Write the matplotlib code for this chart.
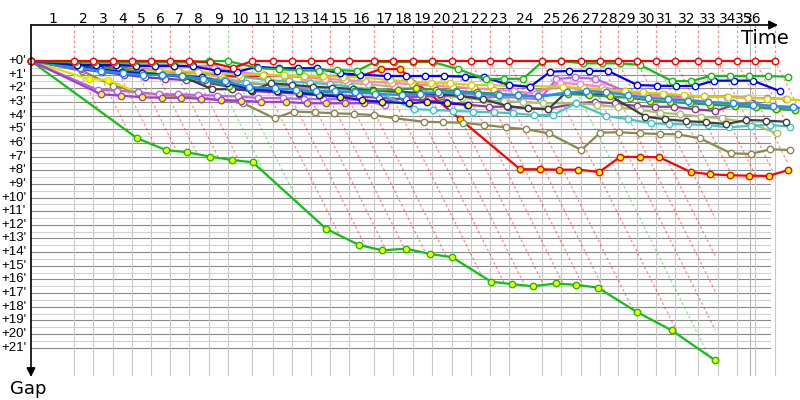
import matplotlib
matplotlib.use("Agg")
import matplotlib.pyplot as plt
import numpy as np

# leader's elapsed time (minutes) at the start and at each of the 36 checkpoints
checkpoint_time = [0, 3.86, 5.56, 7.33, 9.03, 10.74, 12.47, 14.17, 15.94, 17.64,
                   19.85, 21.68, 23.38, 25.09, 26.79, 28.49, 30.79, 32.49, 34.23, 35.94,
                   37.73, 39.43, 41.14, 42.84, 45.80, 47.56, 49.30, 51.03, 52.62, 54.32,
                   56.03, 57.73, 59.85, 61.59, 63.29, 64.96, 66.73]
time_limit = 64.48
checkpoint_labels = [str(i) for i in range(1, 37)]
gap_labels = ["+%d'" % i for i in range(0, 22)]

# gap to the leader (minutes) at start, cp1, cp2, ...
red_lead = [0, 0, 0, 0, 0, 0, 0, 0, 0.1, 0.5,
            0, 0, 0, 0, 0, 0, 0, 0, 0, 0,
            0, 0, 0, 0, 0, 0, 0, 0, 0, 0,
            0, 0, 0, 0, 0, 0, 0]
green = [0, 0.1, 0.1, 0.1, 0.1, 0.1, 0.1, 0.1, 0, 0,
         0.53, 0.6, 0.7, 0.7, 0.66, 0.73, 0.07, 0.07, 0.07, 0.07,
         0.6, 1.34, 1.3, 1.3, 0.05, 0, 0.17, 0.17, 0.17, 0.29,
         1.47, 1.47, 1.1, 1.1, 1.1, 1.1, 1.15]
blue = [0, 0.3, 0.3, 0.3, 0.35, 0.35, 0.35, 0.4, 0.7, 0.8,
        0.42, 0.53, 0.53, 0.53, 0.9, 1.0, 1.1, 1.1, 1.1, 1.1,
        1.15, 1.2, 1.75, 1.9, 0.78, 0.73, 0.73, 0.73, 1.76, 1.81,
        1.83, 1.83, 1.44, 1.44, 1.44, 2.2]
blue_y = [0, 0.46, 0.6, 0.8, 0.9, 1.0, 1.1, 1.2, 1.6, 2.1,
          2.2, 2.34, 2.49, 2.62, 2.86, 3.0, 3.1, 3.0, 3.1, 3.22]
dodger = [0, 0.5, 0.7, 0.9, 1.03, 1.03, 1.1, 1.3, 1.5, 1.9,
          2.0, 2.1, 2.2, 2.2, 2.3, 2.4, 2.5, 2.4, 2.3, 2.3,
          2.4, 2.5, 2.5, 2.6, 2.3, 2.2, 2.3, 2.5, 2.7, 2.8,
          2.9, 3.0, 3.1, 3.2, 3.3, 3.4, 3.5]
cyan = [0, 0.15, 0.17, 0.3, 0.4, 0.4, 0.4, 0.4, 0.3, 1.15,
        1.4, 1.5, 1.6, 1.7, 1.88, 2.1, 3.52, 3.59, 3.66, 3.71,
        3.76, 3.83, 3.96, 3.96, 3.1, 4.03, 4.27, 4.56, 4.62, 4.64,
        4.69, 4.86, 4.74, 4.69, 4.81]
black = [0, 0.3, 0.5, 0.7, 0.85, 1.0, 1.15, 2.07, 2.07, 2.18,
         1.63, 1.76, 1.88, 1.95, 2.05, 2.15, 2.25, 2.35, 2.45, 2.56,
         2.8, 3.3, 3.47, 3.54, 2.25, 2.44, 2.45, 4.08, 4.27, 4.4,
         4.49, 4.62, 4.32, 4.37, 4.45]
olive = [0, 0.73, 1.8, 2.3, 2.5, 2.6, 2.7, 2.86, 3.1, 4.2,
         3.7, 3.76, 3.83, 3.88, 3.96, 4.2, 4.45, 4.49, 4.52, 4.69,
         4.86, 5.0, 5.3, 6.52, 5.25, 5.22, 5.3, 5.35, 5.37, 5.66,
         6.76, 6.81, 6.47, 6.52]
red_drop = [0, 0.3, 0.4, 0.5, 0.6, 0.7, 0.8, 0.9, 1.0, 1.2,
            1.05, 1.1, 1.1, 1.1, 1.1, 1.1, 0.59, 0.59, 4.27, 7.93,
            7.93, 7.96, 7.96, 8.13, 7.03, 7.03, 7.05, 8.13, 8.3, 8.37,
            8.4, 8.42, 8.0]
green_drop = [0, 5.66, 6.52, 6.69, 7.0, 7.25, 7.42, 12.29, 13.48, 13.87,
              13.75, 14.14, 14.37, 16.16, 16.35, 16.5, 16.3, 16.4, 16.6, 18.38,
              19.73, 21.93]
yellow = [0, 1.32, 1.39, 2.37, 2.62, 2.69, 2.76]
violet_a = [0, 2.12, 2.17, 2.29, 2.44, 2.44, 2.49, 2.54, 2.6, 2.7,
            2.73, 2.78, 2.8, 2.8, 2.86, 3.22, 2.62, 2.5, 2.5, 2.6,
            2.7, 2.6, 2.7, 2.8, 1.32, 1.2, 1.3, 2.2, 2.4, 2.5,
            2.6, 2.6, 2.61, 2.69, 2.73, 2.78]
violet_b = [0, 2.44, 2.54, 2.66, 2.69, 2.69, 2.76, 2.86, 2.9, 3.0,
            3.0, 3.1, 3.1, 3.1, 3.1, 2.98, 2.7, 2.6, 2.55, 2.6, 2.7]
purple = [0, 0.6, 0.8, 1.0, 1.2, 1.3, 1.4, 1.6, 1.9, 2.2,
          2.3, 2.4, 2.5, 2.5, 2.6, 2.7, 2.8, 2.9, 3.0, 3.2,
          3.35, 3.35, 3.47, 3.5, 3.1, 3.0, 3.1, 3.3, 3.35, 3.35,
          3.54, 3.66, 3.22, 3.1, 3.35, 3.35]
yellowgreen = [0, 0.5, 0.7, 0.8, 0.85, 0.9, 0.95, 0.9, 1.2, 1.6,
               1.7, 1.6, 1.5, 1.5, 1.6, 1.7, 1.9, 2.1, 2.4, 2.7,
               2.86, 2.95, 3.0, 3.1, 3.1, 3.2, 3.39, 3.59, 3.79, 3.9,
               4.08, 4.2, 4.52, 5.3]
gold = [0, 0.5, 0.55, 0.6, 0.65, 0.7, 0.75, 0.8, 0.9, 1.0,
        1.0, 1.05, 1.1, 1.1, 1.15, 1.2, 1.4, 1.5, 1.63, 1.63,
        1.76, 1.76, 1.83, 1.83, 1.9, 2.0, 2.1, 2.2, 2.3, 2.4,
        2.5, 2.6, 2.65, 2.7, 2.75, 2.8, 2.9]
gray = [0, 0.4, 0.6, 0.8, 0.9, 1.0, 1.1, 1.2, 1.4, 1.6,
        1.8, 1.9, 2.0, 2.0, 2.1, 2.2, 2.3, 2.3, 2.4, 2.4,
        2.5, 2.5, 2.6, 2.2, 1.9, 2.1, 2.2, 2.3, 2.4, 2.6,
        2.8, 3.0, 3.2, 3.3, 3.5, 3.6]
green_y = [0, 0.2, 0.4, 0.6, 0.8, 1.0, 1.2, 1.4, 1.8, 2.0,
           2.2, 2.3, 2.3, 2.3, 2.2, 2.2, 2.1, 2.0, 2.1, 2.2,
           2.3, 2.4, 2.5, 2.6, 2.4, 2.5, 2.6, 2.7, 2.9, 3.0,
           3.1, 3.2, 3.3, 3.4, 3.5, 3.6]
pink = [0, 0.1, 0.15, 0.2, 0.25, 0.3, 0.3, 0.35, 0.5, 0.8,
        1.0, 1.1, 1.2, 1.3, 1.4, 1.5, 1.6, 1.7, 1.8, 1.9,
        2.0, 2.1, 2.2, 2.4, 1.6, 1.7, 1.9, 2.3, 2.5, 2.7,
        2.9, 3.0, 3.1, 3.2, 3.3, 3.4]

# drawn bottom to top: (gaps, line colour, marker fill)
series = [
    (green_drop, "#10c010", "#ffff00"),
    (red_drop, "#ff0000", "#ffff00"),
    (olive, "#8c8850", "white"),
    (yellow, "#e0e000", "#ffff00"),
    (violet_a, "#c060f0", "white"),
    (violet_b, "#a040d0", "#ffff00"),
    (purple, "#9038a0", "white"),
    (yellowgreen, "#a8c468", "white"),
    (gray, "#a0a0a0", "white"),
    (cyan, "#40c8c8", "white"),
    (black, "#404040", "white"),
    (pink, "#ff80c0", "white"),
    (gold, "#d8d000", "white"),
    (green_y, "#30a030", "#ffff00"),
    (blue_y, "#1010d0", "#ffff00"),
    (dodger, "#1890ff", "white"),
    (blue, "#0000ff", "white"),
    (green, "#10c010", "white"),
    (red_lead, "#ff0000", "white"),
]

PX_X, PX_Y = 11.15, 13.65          # pixels per minute
fig = plt.figure(figsize=(8, 4), dpi=100)
ax = fig.add_axes([0, 0, 1, 1])
ax.set_xlim(-31 / PX_X, 769 / PX_X)
ax.set_ylim(339 / PX_Y, -61 / PX_Y)
ax.axis("off")

T = np.array(checkpoint_time)
axis_g = -36 / PX_Y
grid_end = 739 / PX_X
bottom_g = 23.0

# horizontal grid
for i in range(21):
    ax.plot([0, grid_end], [i + 0.5] * 2, color="#d0d0d0", lw=0.8, zorder=0)
    ax.plot([0, grid_end], [i + 1] * 2, color="#8a8a8a", lw=0.8, zorder=0)

# who led at each checkpoint
leader_col = []
for k in range(len(T)):
    best = min((s for s in series if len(s[0]) > k), key=lambda s: s[0][k])
    leader_col.append(best[1])

# lowest position reached at any time -> where the diagonals stop
t_fine = np.linspace(0, 72, 5000)
curves = []
for gaps, col, face in series:
    g = np.array(gaps, float)
    x = T[:len(g)] + g
    curves.append(np.interp(t_fine, x, g, left=np.nan, right=np.nan))
lowest = np.fmax.reduce(np.vstack(curves), axis=0)

slope = 2 * PX_X / PX_Y
for k in range(1, len(T)):
    t0 = T[k]
    ax.plot([t0, t0], [0, bottom_g], color="#c8c8c8", lw=0.8, zorder=0.5)
    ax.plot([t0, t0], [axis_g, 0], color=leader_col[k], lw=0.9, alpha=0.45,
            dashes=(2, 2), zorder=0.6)
    hit = np.where((t_fine > t0) & (slope * (t_fine - t0) >= lowest))[0]
    t1 = t_fine[hit[0]] if len(hit) else 72
    ax.plot([t0, t1], [0, slope * (t1 - t0)], color=leader_col[k], lw=0.9,
            alpha=0.45, dashes=(2, 2), zorder=0.6)
ax.plot([time_limit, time_limit], [axis_g, bottom_g], color="#b4b4b4", lw=0.8, zorder=0.5)

# series
for z, (gaps, col, face) in enumerate(series):
    g = np.array(gaps, float)
    x = T[:len(g)] + g
    ax.plot(x, g, "-", color=col, lw=1.6, zorder=2 + z * 0.1, solid_capstyle="round")
    ax.plot(x, g, "o", ms=4.6, mfc=face, mec=col, mew=1.0, zorder=2.05 + z * 0.1)

# axes with arrows
ax.annotate("", xy=(747 / PX_X, axis_g), xytext=(0, axis_g),
            arrowprops=dict(arrowstyle="-|>", color="black", lw=1.2, mutation_scale=13,
                            shrinkA=0, shrinkB=0), zorder=5)
ax.annotate("", xy=(0, 316 / PX_Y), xytext=(0, axis_g),
            arrowprops=dict(arrowstyle="-|>", color="black", lw=1.2, mutation_scale=13,
                            shrinkA=0, shrinkB=0), zorder=5)

for k, lab in enumerate(checkpoint_labels, start=1):
    xm = (T[k - 1] + min(T[k], time_limit)) / 2
    ax.text(xm, -42 / PX_Y, lab, ha="center", va="center", fontsize=10,
            family="DejaVu Sans")
for i, lab in enumerate(gap_labels):
    ax.text(-5 / PX_X, i, lab, ha="right", va="center", fontsize=9.5,
            family="Liberation Sans")

ax.text(734 / PX_X, -23 / PX_Y, "Time", ha="center", va="center", fontsize=14,
        family="DejaVu Sans")
ax.text(-3 / PX_X, 328 / PX_Y, "Gap", ha="center", va="center", fontsize=13,
        family="DejaVu Sans")

fig.savefig("out.png", dpi=100)
